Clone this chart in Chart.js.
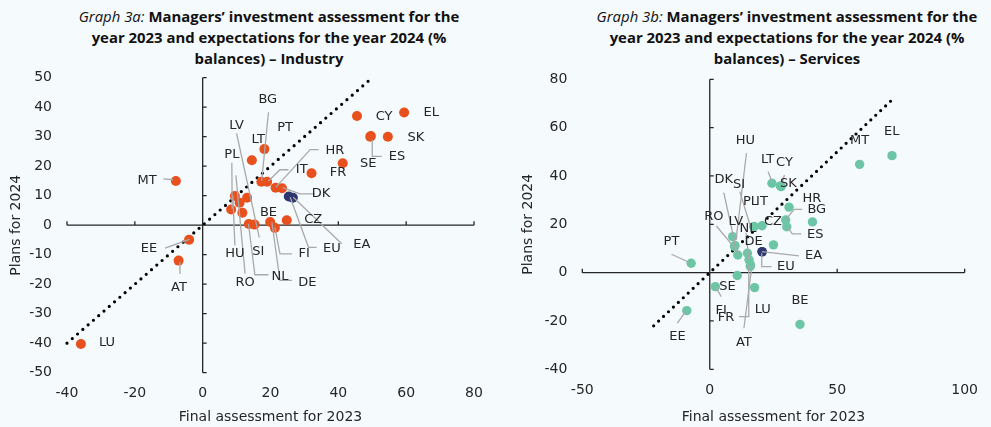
<!DOCTYPE html>
<html>
<head>
<meta charset="utf-8">
<script src="https://cdn.jsdelivr.net/npm/chart.js@4.4.1/dist/chart.umd.min.js"></script>
<style>
  html, body { margin:0; padding:0; background:#f5fafd; }
  body { width:991px; height:427px; position:relative; overflow:hidden; font-family:'Open Sans', sans-serif; }
  canvas { position:absolute; top:0; }
  .title { position:absolute; top:6px; width:520px; text-align:center; white-space:nowrap;
           font-size:14.9px; line-height:20.8px; color:#111; font-weight:700; }
  .title i { font-weight:400; }
</style>
</head>
<body>
<div class="title" style="left:9px"><i>Graph 3a:</i> Managers’ investment assessment for the<br>year 2023 and expectations for the year 2024 (%<br>balances) – Industry</div>
<div class="title" style="left:527px"><i>Graph 3b:</i> Managers’ investment assessment for the<br>year 2023 and expectations for the year 2024 (%<br>balances) – Services</div>
<canvas id="c1" width="495" height="427" style="left:0"></canvas>
<canvas id="c2" width="496" height="427" style="left:495px"></canvas>
<script>
// ---------- Industry (Graph 3a) ----------
const indCountries = ['LU','MT','EE','AT','EL','CY','SK','SE','ES','FR','IE','LT','PT','BG','IT','HR','DK','CZ','BE','FI','DE','NL','SI','PL','LV','RO','HU'];
const indAssess2023 = [-35.9,-7.9,-4.0,-7.1,59.4,45.5,54.6,49.6,49.4,41.3,32.1,18.2,14.5,17.3,19.0,21.5,23.4,24.8,19.9,21.3,11.7,15.3,13.6,8.4,13.1,10.9,9.5];
const indPlans2024  = [-40.3,15.0,-4.9,-12.0,38.2,37.0,30.0,30.2,30.0,21.0,17.6,25.8,22.0,14.7,14.7,12.7,12.5,1.7,1.1,-0.9,4.2,0.2,0.4,5.3,9.3,7.6,9.9];
const indAggNames = ['EU','EA'];
const indAggAssess = [25.4,26.6];
const indAggPlans  = [9.7,9.3];
const indDiagX = [-40,50];
const indDiagY = [-40,50];
const indXTicks = [-40,-20,0,20,40,60,80];
const indYTicks = [50,40,30,20,10,0,-10,-20,-30,-40,-50];

// label text positions (data units) and leader lines (data units)
const indLabelText = ['LU','MT','EE','AT','EL','CY','SK','ES','SE','FR','HR','IT','DK','PT','LT','PL','LV','BG','BE','CZ','EU','EA','FI','DE','NL','RO','SI','HU'];
const indLabelX = [-28.2,-16.4,-15.8,-7.0,67.4,53.5,62.9,57.3,48.8,39.9,39.0,29.2,34.9,24.3,16.4,8.6,10.0,19.2,19.4,32.6,38.1,46.9,29.9,30.9,22.8,12.5,16.4,9.5];
const indLabelY = [-39.9,15.2,-7.9,-21.1,38.0,36.8,29.7,23.1,20.9,17.7,25.3,18.8,10.6,33.2,28.9,24.0,33.8,42.5,4.1,1.8,-8.0,-6.5,-9.7,-19.3,-17.4,-19.3,-8.8,-9.7];
const indLeaders = [
  [[-11.6,15.7],[-8.7,15.4]],
  [[-11.1,-7.8],[-3.9,-4.8]],
  [[-6.7,-16.5],[-6.7,-12.5]],
  [[50.0,29.0],[50.0,23.3],[52.8,23.3]],
  [[19.4,38.3],[17.4,15.0]],
  [[25.3,18.8],[22.8,18.8],[19.4,15.0]],
  [[34.2,25.6],[31.7,25.6],[21.6,12.9]],
  [[33.1,10.6],[28.7,10.6],[23.6,12.7]],
  [[33.6,-7.5],[31.2,-7.5],[25.8,9.5]],
  [[41.0,-6.3],[26.7,9.5]],
  [[26.3,-9.7],[22.8,-9.7],[21.3,-0.7]],
  [[26.3,-18.7],[22.8,-18.7],[20.4,1.0]],
  [[19.4,-16.8],[15.4,-16.8],[13.5,0.5]],
  [[12.5,-16.4],[9.8,16.9]],
  [[8.6,21.2],[8.7,5.6]],
  [[9.5,-6.9],[8.9,10.1]],
  [[10.0,31.1],[16.7,-4.2]]
];

// ---------- Services (Graph 3b) ----------
const srvCountries = ['EL','MT','LT','CY','SK','HR','BG','ES','IE','CZ','PL','SI','IT','LV','HU','DK','RO','DE','NL','FR','AT','FI','LU','SE','PT','EE','BE'];
const srvAssess2023 = [71.5,58.8,24.4,27.7,28.0,31.1,29.8,30.2,40.3,20.5,17.3,17.4,25.0,9.0,9.7,9.9,11.0,14.8,15.4,16.0,15.9,10.8,17.6,2.2,-7.3,-9.0,35.4];
const srvPlans2024  = [48.4,44.8,37.0,35.9,35.6,27.1,21.8,19.0,21.0,19.4,19.0,19.1,11.5,14.9,10.8,11.2,7.3,8.0,5.3,3.2,2.6,-1.2,-6.2,-5.8,3.9,-15.7,-21.4];
const srvAggNames = ['EU','EA'];
const srvAggAssess = [20.5,20.6];
const srvAggPlans  = [8.7,8.6];
const srvDiagX = [-22,71];
const srvDiagY = [-22,71];
const srvXTicks = [-50,0,50,100];
const srvYTicks = [80,60,40,20,0,-20,-40];

const srvLabelText = ['PT','EE','SE','FI','FR','LU','AT','BE','EU','EA','DE','NL','LV','RO','DK','SI','HU','PL','IT','CZ','HR','BG','ES','SK','LT','CY','MT','EL'];
const srvLabelX = [-15.0,-12.7,7.0,4.5,6.4,20.8,13.4,35.4,29.9,40.7,17.2,15.0,10.2,1.6,5.5,11.5,14.0,16.0,20.5,24.8,40.1,42.0,41.4,30.9,22.7,29.3,58.8,71.4];
const srvLabelY = [12.8,-26.5,-5.8,-15.6,-18.5,-15.4,-29.0,-11.7,2.5,6.9,12.8,18.2,21.0,23.2,38.4,36.3,54.6,29.4,29.4,21.2,30.5,25.9,15.6,37.0,46.9,45.7,54.5,58.3];
const srvLeaders = [
  [[-15.0,7.6],[-8.2,4.3]],
  [[-12.7,-20.9],[-9.5,-16.1]],
  [[4.5,-9.9],[2.2,-5.8]],
  [[22.9,41.8],[24.4,37.6]],
  [[29.3,40.4],[28.2,36.7]],
  [[36.3,26.2],[33.1,26.2],[29.9,22.0]],
  [[35.9,16.0],[32.4,16.0],[30.3,19.0]],
  [[35.0,6.9],[20.4,8.7]],
  [[24.2,2.5],[20.4,2.5],[20.4,8.0]],
  [[14.4,49.4],[10.3,13.5]],
  [[5.5,33.1],[10.3,10.1]],
  [[11.8,33.5],[16.0,19.0]],
  [[2.6,19.3],[11.6,8.0]],
  [[11.5,-18.2],[15.3,-18.2],[15.3,3.2]],
  [[13.4,-23.0],[16.6,3.2]],
  [[14.2,16.5],[15.4,5.3]]
];

const FONT = "'DejaVu Sans', sans-serif";
const TXT = '#262626';

function zip(xs, ys) { return xs.map((v, i) => ({ x: v, y: ys[i] })); }

function annotPlugin(labelText, labelX, labelY, leaders) {
  return {
    id: 'annot',
    beforeDatasetsDraw(chart) {
      const { ctx, scales: { x, y } } = chart;
      const x0 = x.getPixelForValue(0), y0 = y.getPixelForValue(0);
      ctx.save();
      ctx.strokeStyle = '#262626';
      ctx.lineWidth = 1.3;
      ctx.beginPath();
      ctx.moveTo(x.getPixelForValue(x.min), y0);
      ctx.lineTo(x.getPixelForValue(x.max), y0);
      ctx.moveTo(x0, y.getPixelForValue(y.max));
      ctx.lineTo(x0, y.getPixelForValue(y.min));
      x.ticks.forEach(t => { const px = x.getPixelForValue(t.value); ctx.moveTo(px, y0); ctx.lineTo(px, y0 - 4); });
      y.ticks.forEach(t => { const py = y.getPixelForValue(t.value); ctx.moveTo(x0, py); ctx.lineTo(x0 + 4, py); });
      ctx.stroke();
      ctx.restore();
    },
    afterDatasetsDraw(chart) {
      const { ctx, scales: { x, y } } = chart;
      ctx.save();
      ctx.strokeStyle = '#a9a9a9';
      ctx.lineWidth = 1.3;
      leaders.forEach(path => {
        ctx.beginPath();
        path.forEach((p, i) => {
          const px = x.getPixelForValue(p[0]), py = y.getPixelForValue(p[1]);
          if (i === 0) ctx.moveTo(px, py); else ctx.lineTo(px, py);
        });
        ctx.stroke();
      });
      ctx.fillStyle = TXT;
      ctx.font = "13px " + FONT;
      ctx.textAlign = 'center';
      ctx.textBaseline = 'middle';
      labelText.forEach((t, i) => {
        ctx.fillText(t, x.getPixelForValue(labelX[i]), y.getPixelForValue(labelY[i]));
      });
      ctx.restore();
    }
  };
}

function makeChart(id, cfg) {
  return new Chart(document.getElementById(id), {
    type: 'scatter',
    data: {
      datasets: [
        { label: 'Aggregates', data: zip(cfg.aggX, cfg.aggY), backgroundColor: '#2e3670', borderWidth: 0, pointRadius: cfg.r, pointHoverRadius: cfg.r },
        { label: 'Countries', data: zip(cfg.cx, cfg.cy), backgroundColor: cfg.color, borderWidth: 0, pointRadius: cfg.r, pointHoverRadius: cfg.r },
        { type: 'line', label: '45°', data: zip(cfg.dx, cfg.dy), borderColor: '#000', borderWidth: 3.2, borderDash: [0, cfg.dash], borderCapStyle: 'round', pointRadius: 0, fill: false, clip: false }
      ]
    },
    options: {
      responsive: false,
      animation: false,
      events: [],
      layout: { padding: { left: 0, right: cfg.padRight, top: cfg.padTop, bottom: 0 } },
      plugins: { legend: { display: false }, tooltip: { enabled: false } },
      scales: {
        x: {
          type: 'linear', min: cfg.xTicks[0], max: cfg.xTicks[cfg.xTicks.length - 1],
          afterBuildTicks: s => { s.ticks = cfg.xTicks.map(v => ({ value: v })); },
          afterFit: s => { s.height = cfg.xH; },
          grid: { display: false, drawTicks: false },
          border: { display: false },
          ticks: { color: TXT, font: { size: 14, family: FONT }, padding: cfg.xTickPad, maxRotation: 0, autoSkip: false },
          title: { display: true, text: 'Final assessment for 2023', color: TXT, font: { size: 14, family: FONT }, padding: { top: 0, bottom: 1 } }
        },
        y: {
          type: 'linear', min: cfg.yTicks[cfg.yTicks.length - 1], max: cfg.yTicks[0],
          afterBuildTicks: s => { s.ticks = cfg.yTicks.slice().reverse().map(v => ({ value: v })); },
          afterFit: s => { s.width = cfg.yW; },
          grid: { display: false, drawTicks: false },
          border: { display: false },
          ticks: { color: TXT, font: { size: 14, family: FONT }, padding: 15, autoSkip: false },
          title: { display: true, text: 'Plans for 2024', color: TXT, font: { size: 14, family: FONT }, padding: { top: cfg.yTitlePad, bottom: 0 } }
        }
      }
    },
    plugins: [annotPlugin(cfg.lt, cfg.lx, cfg.ly, cfg.leaders)]
  });
}

makeChart('c1', {
  cx: indAssess2023, cy: indPlans2024, aggX: indAggAssess, aggY: indAggPlans,
  dx: indDiagX, dy: indDiagY, xTicks: indXTicks, yTicks: indYTicks,
  color: '#e8501e', r: 5, dash: 7,
  padRight: 21, padTop: 77.7, xH: 54.3, yW: 67, xTickPad: 12, yTitlePad: 8,
  lt: indLabelText, lx: indLabelX, ly: indLabelY, leaders: indLeaders
});
makeChart('c2', {
  cx: srvAssess2023, cy: srvPlans2024, aggX: srvAggAssess, aggY: srvAggPlans,
  dx: srvDiagX, dy: srvDiagY, xTicks: srvXTicks, yTicks: srvYTicks,
  color: '#6cc6a5', r: 4.7, dash: 6.8,
  padRight: 15.7, padTop: 79.3, xH: 57.7, yW: 87.3, xTickPad: 13, yTitlePad: 24.5,
  lt: srvLabelText, lx: srvLabelX, ly: srvLabelY, leaders: srvLeaders
});
</script>
</body>
</html>
